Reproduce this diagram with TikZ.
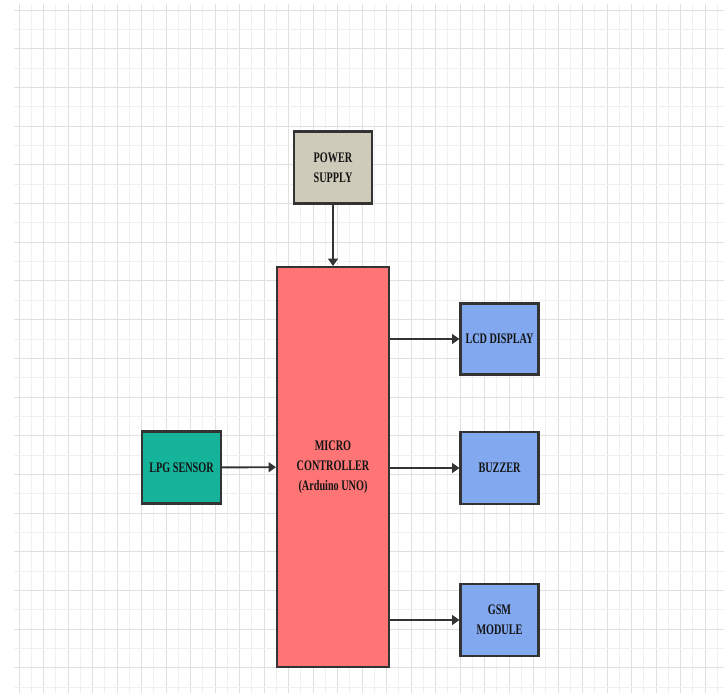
\documentclass[tikz,border=0pt]{standalone}
\usepackage{fontspec}
\usepackage{tikz}
\usetikzlibrary{arrows.meta}
\newfontfamily\blkfont{Liberation Serif}[FakeStretch=0.70]
\definecolor{gr-minor}{RGB}{240, 240, 240}
\definecolor{gr-major}{RGB}{224, 224, 224}
\definecolor{bd-dark}{RGB}{51, 51, 51}
\definecolor{tx-dark}{RGB}{20, 20, 20}
\definecolor{ps-fill}{RGB}{206, 203, 186}
\definecolor{mc-fill}{RGB}{255, 117, 117}
\definecolor{lpg-fill}{RGB}{20, 179, 154}
\definecolor{out-fill}{RGB}{130, 168, 240}
\tikzset{
    blk/.style={rectangle, draw=bd-dark, line width=1.2pt, text=tx-dark, align=center,
        font=\blkfont\bfseries\fontsize{8.3}{11.3}\selectfont, inner sep=0pt},
    link/.style={-{Triangle[length=4.2pt, width=5.6pt]}, line width=1.1pt, color=bd-dark}
}

\begin{document}
\begin{tikzpicture}[x=0.02cm, y=-0.02cm]
    \useasboundingbox (0,0) rectangle (724,693);
    \fill[white] (0,0) rectangle (724,693);
    % background grid
    \foreach \i in {0,...,57} {
        \pgfmathsetmacro{\gx}{19+12.25*\i}
        \pgfmathtruncatemacro{\odd}{mod(\i,2)}
        \ifnum\odd=0 \draw[gr-major, line width=0.5pt] (\gx,4) -- (\gx,693);
        \else \draw[gr-minor, line width=0.5pt] (\gx,4) -- (\gx,693); \fi
    }
    \foreach \j in {0,...,35} {
        \pgfmathsetmacro{\gy}{10+19.35*\j}
        \pgfmathtruncatemacro{\odd}{mod(\j,2)}
        \ifnum\odd=0 \draw[gr-major, line width=0.5pt] (14,\gy) -- (724,\gy);
        \else \draw[gr-minor, line width=0.5pt] (14,\gy) -- (724,\gy); \fi
    }

    \node[blk, fill=ps-fill, minimum width=1.56cm, minimum height=1.44cm] (power) at (333,167.5) {POWER\\SUPPLY};
    \node[blk, fill=mc-fill, minimum width=2.24cm, minimum height=8cm] (mcu) at (333,467) {MICRO\\CONTROLLER\\(Arduino UNO)};
    \node[blk, fill=lpg-fill, minimum width=1.58cm, minimum height=1.44cm] (lpg) at (181.5,467.5) {LPG SENSOR};
    \node[blk, fill=out-fill, minimum width=1.56cm, minimum height=1.42cm] (lcd) at (499.5,339) {LCD DISPLAY};
    \node[blk, fill=out-fill, minimum width=1.56cm, minimum height=1.44cm] (buzz) at (499.5,468) {BUZZER};
    \node[blk, fill=out-fill, minimum width=1.56cm, minimum height=1.44cm] (gsm) at (499.5,620) {GSM\\MODULE};

    \draw[link] (power) -- (mcu);
    \draw[link] (lpg) -- (mcu);
    \draw[link] (mcu.east |- lcd) -- (lcd);
    \draw[link] (mcu.east |- buzz) -- (buzz);
    \draw[link] (mcu.east |- gsm) -- (gsm);
\end{tikzpicture}
\end{document}
